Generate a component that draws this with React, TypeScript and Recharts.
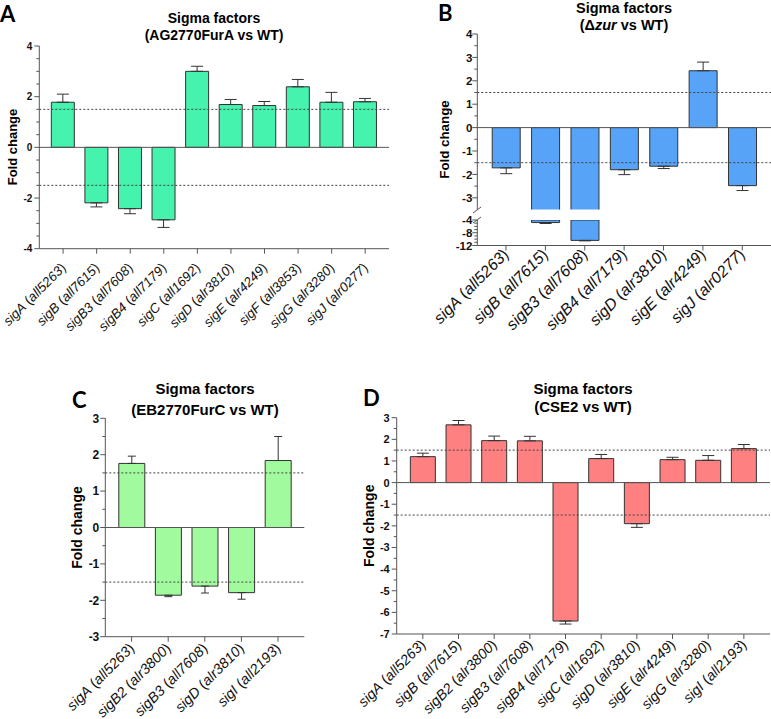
import React from "react";
import { Bar, BarChart, ErrorBar, ReferenceLine, XAxis, YAxis } from "recharts";

// panel A: AG2770FurA vs WT
const genesA = ["sigA", "sigB", "sigB3", "sigB4", "sigC", "sigD", "sigE", "sigF", "sigG", "sigJ"];
const lociA = ["all5263", "all7615", "all7608", "all7179", "all1692", "alr3810", "alr4249", "all3853", "alr3280", "alr0277"];
const foldA = [1.78, -2.19, -2.42, -2.86, 3.0, 1.69, 1.65, 2.39, 1.78, 1.8];
const sdA = [0.32, 0.16, 0.2, 0.3, 0.2, 0.2, 0.16, 0.29, 0.39, 0.13];
const ticksA = [-4, -3.5, -3, -2.5, -2, -1.5, -1, -0.5, 0, 0.5, 1, 1.5, 2, 2.5, 3, 3.5, 4];
const labelsA = [-4, -2, 0, 2, 4];

// panel B: delta zur vs WT (broken axis)
const genesB = ["sigA", "sigB", "sigB3", "sigB4", "sigD", "sigE", "sigJ"];
const lociB = ["all5263", "all7615", "all7608", "all7179", "alr3810", "alr4249", "alr0277"];
const foldB = [-1.72, -4.8, -10.4, -1.8, -1.65, 2.43, -2.48];
const sdB = [0.25, 0.3, 0.15, 0.21, 0.1, 0.37, 0.21];
const ticksBTop = [-3, -2.5, -2, -1.5, -1, -0.5, 0, 0.5, 1, 1.5, 2, 2.5, 3, 3.5, 4];
const labelsBTop = [-3, -2, -1, 0, 1, 2, 3, 4];
const ticksBLow = [-12, -11, -10, -9, -8, -7, -6, -5, -4];
const labelsBLow = [-12, -8, -4];
const breakB = -4;

// panel C: EB2770FurC vs WT
const genesC = ["sigA", "sigB2", "sigB3", "sigD", "sigI"];
const lociC = ["all5263", "alr3800", "all7608", "alr3810", "all2193"];
const foldC = [1.76, -1.86, -1.61, -1.79, 1.84];
const sdC = [0.2, 0.04, 0.19, 0.18, 0.66];
const ticksC = [-3, -2.5, -2, -1.5, -1, -0.5, 0, 0.5, 1, 1.5, 2, 2.5, 3];
const labelsC = [-3, -2, -1, 0, 1, 2, 3];

// panel D: CSE2 vs WT
const genesD = ["sigA", "sigB", "sigB2", "sigB3", "sigB4", "sigC", "sigD", "sigE", "sigG", "sigI"];
const lociD = ["all5263", "all7615", "alr3800", "all7608", "all7179", "all1692", "alr3810", "alr4249", "alr3280", "all2193"];
const foldD = [1.2, 2.67, 1.94, 1.93, -6.4, 1.11, -1.9, 1.06, 1.03, 1.57];
const sdD = [0.16, 0.2, 0.21, 0.21, 0.14, 0.19, 0.17, 0.11, 0.22, 0.19];
const ticksD = [-7, -6.5, -6, -5.5, -5, -4.5, -4, -3.5, -3, -2.5, -2, -1.5, -1, -0.5, 0, 0.5, 1, 1.5, 2, 2.5, 3];
const labelsD = [-7, -6, -5, -4, -3, -2, -1, 0, 1, 2, 3];

const FONT = "'Liberation Sans', Arial, Helvetica, sans-serif";
const AXIS = "#555";
const INK = "#333";

// error bar only on the outward side, like the original
const rows = (genes: string[], loci: string[], fold: number[], sd: number[]) =>
  genes.map((g, i) => ({
    gene: g,
    locus: loci[i],
    fold: fold[i],
    err: fold[i] >= 0 ? [0, sd[i]] : [sd[i], 0],
  }));

const dataA = rows(genesA, lociA, foldA, sdA);
const dataB = rows(genesB, lociB, foldB, sdB);
// lower segment of the broken axis only shows bars that reach past the break
const dataBLow = dataB.map((r) => (r.fold < breakB ? r : { ...r, fold: null, err: null }));
const dataC = rows(genesC, lociC, foldC, sdC);
const dataD = rows(genesD, lociD, foldD, sdD);

function YTick(props: any) {
  const { x, y, payload, labels, fontSize, gap } = props;
  const major = labels.includes(payload.value);
  return (
    <g>
      <line x1={x} x2={x - (major ? 5 : 3)} y1={y} y2={y} stroke={AXIS} />
      {major && (
        <text x={x - gap} y={y} dy="0.36em" textAnchor="end" fontSize={fontSize} fontWeight="bold" fill="#111" fontFamily={FONT}>
          {payload.value}
        </text>
      )}
    </g>
  );
}

function XTick(props: any) {
  const { x, y, payload, loci, fontSize, drop } = props;
  // y arrives 5px below the axis (tick length)
  const tx = x + 3.5;
  const ty = y - 5 + drop;
  return (
    <text x={tx} y={ty} transform={`rotate(-45 ${tx} ${ty})`} textAnchor="end" fontSize={fontSize} fill="#111" fontFamily={FONT}>
      <tspan fontStyle="italic">{payload.value}</tspan>
      <tspan> (</tspan>
      <tspan fontStyle="italic">{loci[payload.index]}</tspan>
      <tspan>)</tspan>
    </text>
  );
}

type PanelProps = {
  data: any[];
  loci: string[];
  left: number;
  top: number;
  width: number;
  height: number;
  marginTop: number;
  marginRight: number;
  yWidth: number;
  xHeight: number;
  pad: number;
  domain: [number, number];
  ticks: number[];
  labels: number[];
  fill: string;
  tickFont: number;
  xFont: number;
  drop: number;
  gap: number;
  cap: number;
  hideX?: boolean;
  guides?: boolean;
};

function FoldChart(p: PanelProps) {
  return (
    <div style={{ position: "absolute", left: p.left, top: p.top }}>
      <BarChart
        width={p.width}
        height={p.height}
        data={p.data}
        margin={{ top: p.marginTop, right: p.marginRight, left: 0, bottom: 0 }}
        barCategoryGap="15%"
      >
        <XAxis
          dataKey="gene"
          hide={p.hideX}
          height={p.xHeight}
          interval={0}
          tickSize={5}
          tickMargin={0}
          stroke={AXIS}
          padding={{ left: p.pad, right: p.pad }}
          tick={(t: any) => <XTick {...t} loci={p.loci} fontSize={p.xFont} drop={p.drop} />}
        />
        <YAxis
          type="number"
          width={p.yWidth}
          domain={p.domain}
          ticks={p.ticks}
          interval={0}
          allowDataOverflow
          tickLine={false}
          tickSize={0}
          tickMargin={0}
          stroke={AXIS}
          tick={(t: any) => <YTick {...t} labels={p.labels} fontSize={p.tickFont} gap={p.gap} />}
        />
        {p.guides !== false && <ReferenceLine y={1.5} stroke="#444" strokeDasharray="2 2" />}
        {p.guides !== false && <ReferenceLine y={-1.5} stroke="#444" strokeDasharray="2 2" />}
        <Bar dataKey="fold" fill={p.fill} stroke={INK} strokeWidth={1} isAnimationActive={false}>
          <ErrorBar dataKey="err" direction="y" width={p.cap} stroke={INK} strokeWidth={1} />
        </Bar>
        {p.guides !== false && <ReferenceLine y={0} stroke={AXIS} />}
      </BarChart>
    </div>
  );
}

export default function App() {
  return (
    <div style={{ position: "absolute", left: 0, top: 0, width: 771, height: 719, background: "#fff", fontFamily: FONT }}>
      <FoldChart
        data={dataA} loci={lociA} left={0} top={0} width={390} height={345}
        marginTop={46} marginRight={1} yWidth={39.3} xHeight={96.3} pad={7}
        domain={[-4, 4]} ticks={ticksA} labels={labelsA} fill="#45F2AE"
        tickFont={10} xFont={13.4} drop={20} gap={7} cap={6}
      />
      <FoldChart
        data={dataB} loci={lociB} left={390} top={0} width={381} height={209.5}
        marginTop={34} marginRight={0} yWidth={87.3} xHeight={0} pad={9}
        domain={[-3.5, 4]} ticks={ticksBTop} labels={labelsBTop} fill="#56A3F7"
        tickFont={11.5} xFont={16} drop={10} gap={5} cap={6} hideX
      />
      <FoldChart
        data={dataBLow} loci={lociB} left={390} top={214.5} width={381} height={120.5}
        marginTop={5} marginRight={0} yWidth={87.3} xHeight={90} pad={9}
        domain={[-12, -4]} ticks={ticksBLow} labels={labelsBLow} fill="#56A3F7"
        tickFont={11.5} xFont={16} drop={10} gap={5} cap={6} guides={false}
      />
      <FoldChart
        data={dataC} loci={lociC} left={0} top={350} width={330} height={369}
        marginTop={68.3} marginRight={25.7} yWidth={105.3} xHeight={82.3} pad={8}
        domain={[-3, 3]} ticks={ticksC} labels={labelsC} fill="#A2FA9E"
        tickFont={12} xFont={14.4} drop={12.5} gap={6} cap={4}
      />
      <FoldChart
        data={dataD} loci={lociD} left={320} top={350} width={451} height={369}
        marginTop={67.7} marginRight={1} yWidth={76.7} xHeight={85} pad={8.3}
        domain={[-7, 3]} ticks={ticksD} labels={labelsD} fill="#FF8080"
        tickFont={11} xFont={14.4} drop={11.5} gap={7} cap={6}
      />
      <svg width={771} height={719} style={{ position: "absolute", left: 0, top: 0, pointerEvents: "none" }}>
        <g fontFamily="Lato, 'Liberation Sans', sans-serif" fontWeight="bold" fontSize={22} fill="#000">
          <text x={0} y={22}>A</text>
          <text x={438} y={21}>B</text>
          <text x={72} y={408}>C</text>
          <text x={363} y={406}>D</text>
        </g>
        <g fontFamily={FONT} fontWeight="bold" fill="#000" textAnchor="middle">
          <text x={214} y={22.5} fontSize={14}>Sigma factors</text>
          <text x={214} y={40} fontSize={14}>(AG2770FurA vs WT)</text>
          <text x={624} y={12.5} fontSize={14.5}>Sigma factors</text>
          <text x={624} y={29.5} fontSize={14.5}>
            (Δ<tspan fontStyle="italic">zur</tspan> vs WT)
          </text>
          <text x={205} y={393.5} fontSize={15}>Sigma factors</text>
          <text x={205} y={415} fontSize={15}>(EB2770FurC vs WT)</text>
          <text x={583} y={393.5} fontSize={15}>Sigma factors</text>
          <text x={583} y={412} fontSize={15}>(CSE2 vs WT)</text>
          <text x={12} y={147} fontSize={13} dominantBaseline="central" transform="rotate(-90 12 147)">Fold change</text>
          <text x={444} y={139.5} fontSize={13.3} dominantBaseline="central" transform="rotate(-90 444 139.5)">Fold change</text>
          <text x={77} y={527.5} fontSize={14} dominantBaseline="central" transform="rotate(-90 77 527.5)">Fold change</text>
          <text x={369} y={525.8} fontSize={14} dominantBaseline="central" transform="rotate(-90 369 525.8)">Fold change</text>
        </g>
        {/* axis break marks on panel B */}
        <g stroke={AXIS} strokeWidth={1}>
          <line x1={473} y1={213} x2={481} y2={207} />
          <line x1={473} y1={223} x2={481} y2={217} />
        </g>
      </svg>
    </div>
  );
}
